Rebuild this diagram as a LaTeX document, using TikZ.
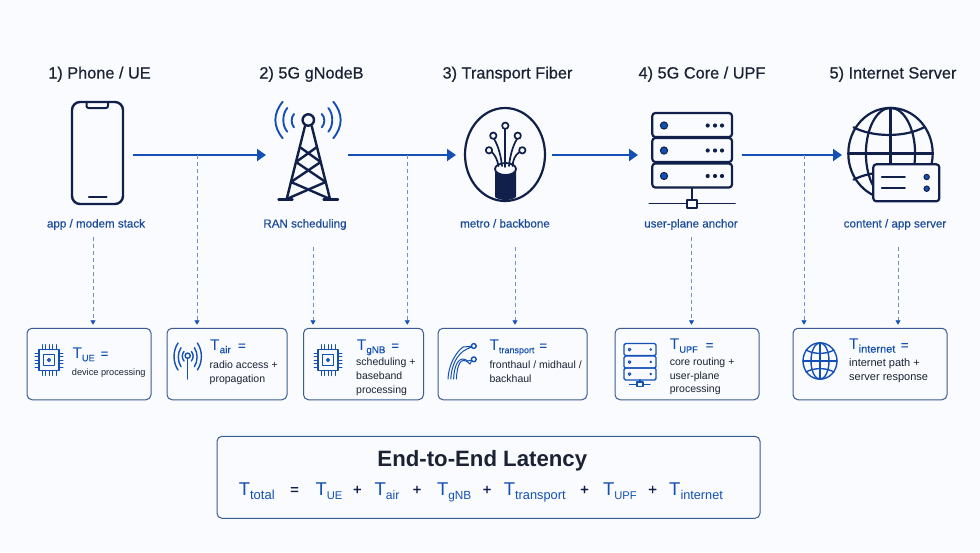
\documentclass[tikz,border=0pt]{standalone}
\usepackage{fontspec}
\setmainfont{Liberation Sans}
\newfontfamily\medf[FakeBold=0.35]{Liberation Sans}
\newfontfamily\headf[FakeBold=0.6]{Liberation Sans}
\usetikzlibrary{arrows.meta}
\definecolor{navy}{HTML}{10204A}
\definecolor{blu}{HTML}{1450B4}
\definecolor{txtblu}{HTML}{1B4A9C}
\definecolor{boxc}{HTML}{3A5C92}
\definecolor{dashc}{HTML}{6F8FC0}
\definecolor{bg}{HTML}{F9FBFE}
\definecolor{ink}{HTML}{1A2233}
\tikzset{
 x=1pt,y=-1pt,
 head/.style={font=\headf\fontsize{16.3}{18}\selectfont,text=ink,inner sep=0pt,anchor=base},
 sub/.style={font=\medf\fontsize{11.6}{13}\selectfont,text=txtblu,inner sep=0pt,anchor=base},
 flow/.style={draw=blu,line width=2pt,-{Triangle[length=9pt,width=12pt]}},
 drop/.style={draw=dashc,line width=.9pt,dash pattern=on 4pt off 3pt,shorten >=3pt,-{Triangle[length=4.5pt,width=5pt,color=blu]}},
 card/.style={draw=boxc,line width=1pt,rounded corners=5pt,fill=bg,inner sep=0pt},
 sym/.style={font=\fontsize{15.5}{18}\selectfont,text=blu,inner sep=0pt,anchor=base west},
 desc/.style={font=\fontsize{10.5}{13.6}\selectfont,text=ink,inner sep=0pt,anchor=base west,align=left},
 icon/.style={draw=navy,line width=2.4pt,line join=round,line cap=round},
 wave/.style={draw=blu,line width=1.9pt,line cap=round},
 bicon/.style={draw=blu,line width=1.4pt,line cap=round,line join=round},
 total/.style={font=\fontsize{18.5}{20}\selectfont,text=blu,inner sep=0pt,anchor=base west},
 plus/.style={font=\medf\fontsize{15}{18}\selectfont,text=navy,inner sep=0pt,anchor=base},
}
% size, subscript, gap before the equals sign
\newcommand{\Tsub}[3]{T\raisebox{-3.2pt}{\medf\fontsize{#1}{13}\selectfont #2}\hspace{#3pt}{\medf\fontsize{13}{13}\selectfont =}}
\newcommand{\Tbig}[2]{T\raisebox{-4pt}{\fontsize{#1}{14}\selectfont #2}}
\begin{document}
\begin{tikzpicture}
\fill[bg] (0,0) rectangle (980,552);
\useasboundingbox (0,0) rectangle (980,552);
% headings
\node[head] (h1) at (99.5,78.5) {1) Phone / UE};
\node[head] (h2) at (311.5,78.5) {2) 5G gNodeB};
\node[head] (h3) at (507.5,78.5) {3) Transport Fiber};
\node[head] (h4) at (702,78.5) {4) 5G Core / UPF};
\node[head] (h5) at (893,78.5) {5) Internet Server};
% subs
\node[sub] (s1) at (96,227.5) {app / modem stack};
\node[sub] (s2) at (305,227.5) {RAN scheduling};
\node[sub] (s3) at (505,227.5) {metro / backbone};
\node[sub] (s4) at (691,227.5) {user-plane anchor};
\node[sub] (s5) at (895,227.5) {content / app server};
% flow
\coordinate (a1s) at (132.7,155); \coordinate (a1e) at (266,155);
\coordinate (a2s) at (347.7,155); \coordinate (a2e) at (456,155);
\coordinate (a3s) at (552,155); \coordinate (a3e) at (638,155);
\coordinate (a4s) at (741.7,155); \coordinate (a4e) at (842,155);
\draw[flow] (a1s) -- (a1e);
\draw[flow] (a2s) -- (a2e);
\draw[flow] (a3s) -- (a3e);
\draw[flow] (a4s) -- (a4e);
% phone
\draw[icon,rounded corners=8pt] (72,102) rectangle (123,204);
\draw[icon,line width=2pt,rounded corners=2pt] (86.5,102) -- (86.5,108) -- (108,108) -- (108,102);
\draw[icon,line width=2.2pt] (89,196.7) -- (106.5,196.7);
% tower
\draw[icon] (308.3,120) circle (5.7);
\draw[icon] (305,126) -- (286.7,199);
\draw[icon] (311.7,126) -- (330,199);
\draw[icon] (278.5,199.3) -- (292.5,199.3);
\draw[icon] (323.5,199.3) -- (338,199.3);
\draw[icon] (299.7,147) -- (320.7,162) -- (291,182) -- (330,199);
\draw[icon] (317,147) -- (296,162) -- (325.7,182) -- (286.7,199);
\draw[wave] (282.7,101.7) .. controls (272.9,114) and (272.9,126) .. (282.7,138.3);
\draw[wave] (287.3,108) .. controls (282,114) and (282,126) .. (287.3,131.7);
\draw[wave] (294,114) .. controls (290.9,117) and (290.9,124) .. (294,127.3);
\draw[wave] (333.3,101.7) .. controls (343.1,114) and (343.1,126) .. (333.3,138.3);
\draw[wave] (328.3,108) .. controls (333.6,114) and (333.6,126) .. (328.3,131.7);
\draw[wave] (321.7,114) .. controls (325.2,117) and (325.2,124) .. (321.7,127.3);
% fiber
\draw[icon,line width=2.2pt] (505,154.5) ellipse (40 and 46.5);
\fill[navy] (495,169) -- (495,197) .. controls (500,201) and (511,201) .. (516,197) -- (516,169) -- cycle;
\draw[icon,line width=1.8pt,fill=bg] (505.5,169) ellipse (10.5 and 6);
\foreach \cx/\cy in {505.3/125.7,493.3/135.7,517.7/135.7,489/150.3,522.3/150.3}{
  \draw[icon,line width=1.7pt,fill=bg] (\cx,\cy) circle (3.2);
}
\draw[icon,line width=1.7pt] (505.3,129) -- (505.3,167);
\draw[icon,line width=1.7pt] (494,139) .. controls (498,145) and (501,156) .. (502,166);
\draw[icon,line width=1.7pt] (517,139) .. controls (513,145) and (510,156) .. (509,166);
\draw[icon,line width=1.7pt] (519.5,152) .. controls (515,155) and (513,160) .. (512.5,166);
\draw[icon,line width=1.7pt] (491.8,152) .. controls (495,155) and (497.5,160) .. (498.5,166);
% server
\foreach \y in {113,138,163.5}{
  \draw[icon,rounded corners=3pt,line width=2.2pt] (652.3,\y) rectangle (732,\y+24);
  \fill[blu,draw=navy,line width=1pt] (664,\y+12.5) circle (3.6);
  \fill[navy] (707.7,\y+12.5) circle (2.1) (715,\y+12.5) circle (2.1) (722,\y+12.5) circle (2.1);
}
\draw[icon,line width=2pt] (691.7,187.7) -- (691.7,200);
\draw[icon,line width=1.7pt] (649.3,203.5) -- (735,203.5);
\draw[icon,line width=1.7pt,fill=bg] (687.3,200) rectangle (697.3,207.7);
% globe
\draw[icon,line width=2.2pt] (890.5,153.5) ellipse (42.2 and 45.6);
\draw[icon,line width=2.2pt] (890.5,108) -- (890.5,199);
\draw[icon,line width=2.2pt] (848.3,153.5) -- (932.7,153.5);
\draw[icon,line width=2.2pt] (890.5,153.5) ellipse (24.6 and 45.6);
\draw[icon,line width=2.2pt] (853.5,127.3) .. controls (873,137.5) and (905,137.5) .. (924,127.3);
\draw[icon,line width=2.2pt] (853.5,179.7) .. controls (873,169.5) and (905,169.5) .. (924,179.7);
\draw[icon,line width=2.2pt,fill=bg,rounded corners=3pt] (873.3,164.3) rectangle (939.3,201.3);
\draw[icon,line width=1.7pt] (881.7,177) -- (905,177);
\draw[icon,line width=1.7pt] (881.7,188.3) -- (905,188.3);
\fill[blu,draw=navy,line width=1pt] (926.7,177) circle (2.7);
\fill[blu,draw=navy,line width=1pt] (926.7,188.7) circle (2.7);
% cards
\node[card,minimum width=124pt,minimum height=71.5pt] (c1) at (89,364) {};
\node[card,minimum width=120pt,minimum height=71.5pt] (c2) at (227,364) {};
\node[card,minimum width=120pt,minimum height=71.5pt] (c3) at (363.5,364) {};
\node[card,minimum width=149pt,minimum height=71.5pt] (c4) at (512.5,364) {};
\node[card,minimum width=144pt,minimum height=71.5pt] (c5) at (687,364) {};
\node[card,minimum width=154pt,minimum height=71.5pt] (c6) at (870,364) {};
% drops
\coordinate (d1) at (93,237);
\coordinate (d2) at (197,155);
\coordinate (d3) at (313,247);
\coordinate (d4) at (407.3,155);
\coordinate (d5) at (515,247);
\coordinate (d6) at (691.5,237);
\coordinate (d7) at (804,155);
\coordinate (d8) at (898,247);
\draw[drop] (d1) -- (d1 |- c1.north);
\draw[drop] (d2) -- (d2 |- c2.north);
\draw[drop] (d3) -- (d3 |- c3.north);
\draw[drop] (d4) -- (d4 |- c3.north);
\draw[drop] (d5) -- (d5 |- c4.north);
\draw[drop] (d6) -- (d6 |- c5.north);
\draw[drop] (d7) -- (d7 |- c6.north);
\draw[drop] (d8) -- (d8 |- c6.north);
% chips
\foreach \cx/\cy in {49/360, 328/360}{
 \draw[bicon,line width=1.6pt] (\cx-10,\cy-10.5) rectangle (\cx+10,\cy+10.5);
 \draw[bicon] (\cx-5.5,\cy-5.5) rectangle (\cx+5.5,\cy+5.5);
 \draw[bicon] (\cx,\cy) circle (1.5);
 \foreach \o in {-7,-3.5,0,3.5,7}{
  \draw[bicon,line width=1pt] (\cx+\o,\cy-10.5) -- (\cx+\o,\cy-15.5);
  \draw[bicon,line width=1pt] (\cx+\o,\cy+10.5) -- (\cx+\o,\cy+15.5);
  \draw[bicon,line width=1pt] (\cx-10,\cy+\o) -- (\cx-14,\cy+\o);
  \draw[bicon,line width=1pt] (\cx+10,\cy+\o) -- (\cx+14,\cy+\o);
 }
}
% antenna
\draw[bicon] (187.7,355.7) circle (2.6);
\draw[bicon] (187.7,358.3) -- (187.7,379);
\draw[bicon] (184,351.5) .. controls (181.7,354) and (181.7,358) .. (184,361);
\draw[bicon] (191.4,351.5) .. controls (193.7,354) and (193.7,358) .. (191.4,361);
\draw[bicon] (181,347.7) .. controls (177.4,353) and (177.4,361) .. (181,366.7);
\draw[bicon] (194.4,347.7) .. controls (198,353) and (198,361) .. (194.4,366.7);
\draw[bicon] (178,343) .. controls (172.7,351) and (172.7,362) .. (178,370);
\draw[bicon] (197.4,343) .. controls (202.7,351) and (202.7,362) .. (197.4,370);
% fiber small
\foreach \i/\ex/\ey in {0/463/347, 1/467/349, 2/468/361, 3/470/364}{
 \draw[bicon,line width=1pt] (448+\i*2.8,379) .. controls (448.5+\i*2.8,367) and (454+\i*2,354) .. (\ex,\ey);
}
\draw[bicon,line width=1pt] (463,347) -- (471.5,346.3) (467,349) -- (471.5,347) (468,361) -- (471.5,360) (470,364) -- (471.5,361);
\draw[bicon] (473.8,346) circle (2.4);
\draw[bicon] (473.8,359.3) circle (2.4);
% small server
\foreach \y in {343.5,356,368}{
 \draw[bicon,rounded corners=1.5pt] (624,\y) rectangle (656,\y+12);
 \draw[bicon,line width=1pt] (629.5,\y+6) circle (1.4);
 \fill[blu] (650.7,\y+6) circle (1.4);
}
\draw[bicon] (640,380) -- (640,382);
\draw[bicon] (629.5,384.3) -- (650,384.3);
\draw[bicon,fill=bg] (637,382) rectangle (643,386.5);
% small globe
\draw[bicon] (820,361) ellipse (17 and 18.2);
\draw[bicon] (820,342.8) -- (820,379.2);
\draw[bicon] (803,361) -- (837,361);
\draw[bicon] (820,361) ellipse (9 and 18.2);
\draw[bicon] (806,350) .. controls (814,354.5) and (826,354.5) .. (834,350);
\draw[bicon] (806,372) .. controls (814,367.5) and (826,367.5) .. (834,372);
% card text (multi-line nodes are placed by the baseline of their last line)
\node[sym] (t1s) at (72.3,358) {\Tsub{9.2}{UE}{6}};
\node[desc,font=\fontsize{9.2}{12}\selectfont] (t1d) at (71.7,375.5) {device processing};
\node[sym] (t2s) at (210,350) {\Tsub{10}{air}{7.3}};
\node[desc] (t2d) at (209.5,382) {radio access +\\[.4pt]propagation};
\node[sym] (t3s) at (356.7,350) {\Tsub{9.8}{gNB}{6}};
\node[desc] (t3d) at (356,393) {scheduling +\\baseband\\processing};
\node[sym] (t4s) at (489.3,350) {\Tsub{9}{transport}{5}};
\node[desc] (t4d) at (489.3,382) {fronthaul / midhaul /\\[.4pt]backhaul};
\node[sym] (t5s) at (669.7,349.5) {\Tsub{9.2}{UPF}{8}};
\node[desc] (t5d) at (669.7,392.7) {core routing +\\user-plane\\processing};
\node[sym] (t6s) at (849,349.5) {\Tsub{11}{internet}{5.5}};
\node[desc,font=\fontsize{11}{13.6}\selectfont] (t6d) at (849,380) {internet path +\\server response};
% total box
\node[card,minimum width=543pt,minimum height=82pt] (tb) at (488.5,477.3) {};
\node[inner sep=0pt,anchor=base,font=\bfseries\fontsize{22.2}{24}\selectfont,text=ink] (tt) at (482.3,466.7) {End-to-End Latency};
\node[total] (e0) at (238.6,495) {\Tbig{13}{total}};
\node[plus] (p0) at (294.5,494.5) {=};
\node[total] (e1) at (315.4,495) {\Tbig{11.2}{UE}};
\node[plus] (p1) at (357.3,494.5) {+};
\node[total] (e2) at (374.3,495) {\Tbig{12.2}{air}};
\node[plus] (p2) at (417,494.5) {+};
\node[total] (e3) at (436.8,495) {\Tbig{11.8}{gNB}};
\node[plus] (p3) at (487,494.5) {+};
\node[total] (e4) at (503.6,495) {\Tbig{12.8}{transport}};
\node[plus] (p4) at (584.5,494.5) {+};
\node[total] (e5) at (602.9,495) {\Tbig{11.2}{UPF}};
\node[plus] (p5) at (652.6,494.5) {+};
\node[total] (e6) at (669,495) {\Tbig{12.7}{internet}};
\end{tikzpicture}
\end{document}
